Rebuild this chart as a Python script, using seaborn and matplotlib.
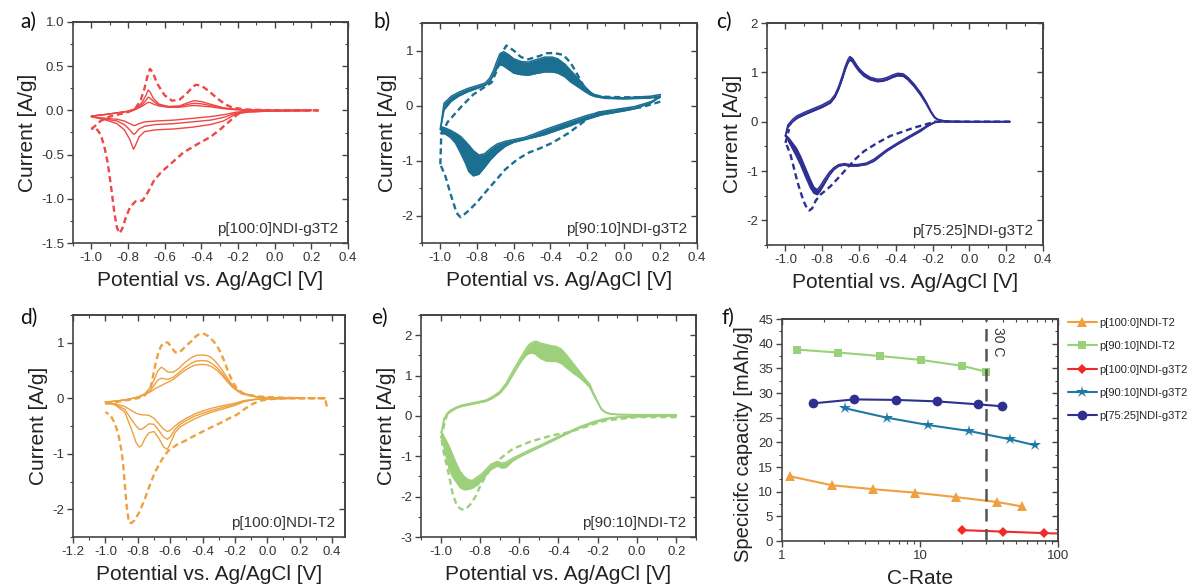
import matplotlib
matplotlib.use("Agg")
import matplotlib.pyplot as plt
from matplotlib.ticker import MultipleLocator, FuncFormatter, LogLocator, NullFormatter
import seaborn as sns

# ---------------- data: a) p[100:0]NDI-g3T2 ----------------
A_UP_E = [-1.0, -0.9, -0.8, -0.77, -0.74, -0.72, -0.70, -0.69, -0.68, -0.66, -0.63, -0.58, -0.52, -0.47, -0.44, -0.40, -0.35, -0.28, -0.22, -0.15, 0.0, 0.2]
A_UP_C1 = [-0.065, -0.04, -0.01, 0.01, 0.05, 0.10, 0.18, 0.23, 0.21, 0.13, 0.07, 0.045, 0.05, 0.09, 0.11, 0.10, 0.07, 0.03, 0.015, 0.005, 0.0, 0.0]
A_UP_C2 = [-0.065, -0.04, -0.01, 0.01, 0.04, 0.07, 0.12, 0.15, 0.14, 0.10, 0.06, 0.04, 0.045, 0.07, 0.08, 0.075, 0.055, 0.025, 0.01, 0.005, 0.0, 0.0]
A_UP_C3 = [-0.065, -0.04, -0.01, 0.0, 0.03, 0.05, 0.08, 0.09, 0.09, 0.07, 0.05, 0.035, 0.035, 0.05, 0.055, 0.05, 0.04, 0.02, 0.01, 0.0, 0.0, 0.0]
A_DN_E = [0.2, 0.0, -0.15, -0.21, -0.28, -0.35, -0.45, -0.55, -0.65, -0.71, -0.74, -0.76, -0.77, -0.79, -0.82, -0.86, -0.92, -1.0]
A_DN_C1 = [0.0, -0.005, -0.02, -0.04, -0.12, -0.16, -0.19, -0.21, -0.22, -0.24, -0.3, -0.40, -0.44, -0.33, -0.22, -0.15, -0.11, -0.07]
A_DN_C2 = [0.0, -0.005, -0.015, -0.03, -0.08, -0.11, -0.13, -0.15, -0.16, -0.18, -0.21, -0.26, -0.27, -0.22, -0.16, -0.12, -0.10, -0.07]
A_DN_C3 = [0.0, -0.005, -0.01, -0.02, -0.05, -0.07, -0.09, -0.11, -0.12, -0.13, -0.15, -0.17, -0.17, -0.15, -0.12, -0.1, -0.09, -0.07]
A_DASH_UP_E = [-1.0, -0.97, -0.95, -0.9, -0.8, -0.76, -0.73, -0.71, -0.69, -0.68, -0.665, -0.64, -0.6, -0.56, -0.52, -0.48, -0.45, -0.43, -0.40, -0.36, -0.31, -0.27, -0.23, -0.15, 0.0, 0.24]
A_DASH_UP_I = [-0.21, -0.16, -0.12, -0.07, -0.02, 0.02, 0.12, 0.25, 0.42, 0.47, 0.43, 0.30, 0.17, 0.11, 0.12, 0.19, 0.26, 0.29, 0.28, 0.22, 0.13, 0.07, 0.03, 0.01, 0.0, 0.0]
A_DASH_DN_E = [0.24, 0.0, -0.15, -0.2, -0.25, -0.3, -0.35, -0.42, -0.5, -0.57, -0.62, -0.66, -0.69, -0.72, -0.76, -0.79, -0.81, -0.83, -0.845, -0.86, -0.875, -0.89, -0.91, -0.93, -0.95, -0.975, -1.0]
A_DASH_DN_I = [0.0, 0.0, -0.01, -0.04, -0.13, -0.22, -0.30, -0.38, -0.48, -0.61, -0.70, -0.80, -0.92, -1.02, -1.03, -1.10, -1.20, -1.33, -1.39, -1.33, -1.15, -0.9, -0.6, -0.4, -0.27, -0.2, -0.21]

# ---------------- data: b) p[90:10]NDI-g3T2 ----------------
B_UP_E = [-1.0, -0.98, -0.94, -0.9, -0.85, -0.8, -0.755, -0.73, -0.71, -0.69, -0.675, -0.655, -0.63, -0.6, -0.56, -0.52, -0.48, -0.43, -0.39, -0.36, -0.32, -0.29, -0.25, -0.21, -0.18, -0.155, -0.1, 0.0, 0.1, 0.15, 0.2]
B_UP_OUT = [-0.44, 0.04, 0.17, 0.24, 0.31, 0.36, 0.41, 0.5, 0.64, 0.82, 0.94, 0.98, 0.93, 0.85, 0.8, 0.79, 0.83, 0.88, 0.88, 0.85, 0.75, 0.64, 0.5, 0.34, 0.24, 0.19, 0.15, 0.14, 0.16, 0.17, 0.2]
B_UP_IN = [-0.44, -0.08, 0.08, 0.17, 0.25, 0.31, 0.37, 0.44, 0.55, 0.68, 0.74, 0.72, 0.66, 0.59, 0.56, 0.55, 0.58, 0.61, 0.61, 0.59, 0.52, 0.43, 0.34, 0.25, 0.19, 0.16, 0.13, 0.12, 0.13, 0.14, 0.16]
B_DN_E = [0.2, 0.15, 0.06, 0.0, -0.12, -0.2, -0.3, -0.37, -0.43, -0.49, -0.54, -0.6, -0.645, -0.69, -0.725, -0.76, -0.79, -0.82, -0.845, -0.864, -0.89, -0.918, -0.945, -0.973, -1.0]
B_DN_OUT = [0.16, 0.05, -0.06, -0.1, -0.17, -0.25, -0.38, -0.46, -0.53, -0.58, -0.62, -0.67, -0.74, -0.86, -0.98, -1.13, -1.25, -1.28, -1.2, -1.04, -0.86, -0.68, -0.58, -0.52, -0.5]
B_DN_IN = [0.16, 0.07, -0.02, -0.05, -0.11, -0.18, -0.29, -0.37, -0.44, -0.52, -0.58, -0.62, -0.65, -0.7, -0.78, -0.88, -0.9, -0.82, -0.72, -0.65, -0.56, -0.5, -0.45, -0.41, -0.38]
B_DASH_UP_E = [-1.0, -0.995, -0.96, -0.92, -0.88, -0.82, -0.77, -0.72, -0.69, -0.665, -0.64, -0.6, -0.56, -0.52, -0.46, -0.42, -0.38, -0.33, -0.29, -0.25, -0.21, -0.17, -0.12, 0.0, 0.1, 0.2]
B_DASH_UP_I = [-1.07, -0.53, -0.3, -0.15, 0.0, 0.2, 0.31, 0.42, 0.65, 0.95, 1.09, 1.0, 0.88, 0.84, 0.9, 0.95, 0.955, 0.92, 0.78, 0.55, 0.3, 0.2, 0.16, 0.15, 0.15, 0.14]
B_DASH_DN_E = [0.2, 0.1, 0.0, -0.1, -0.14, -0.2, -0.3, -0.39, -0.45, -0.52, -0.58, -0.645, -0.7, -0.755, -0.8, -0.845, -0.87, -0.89, -0.905, -0.918, -0.945, -0.973, -1.0]
B_DASH_DN_I = [0.07, -0.03, -0.08, -0.11, -0.13, -0.25, -0.5, -0.68, -0.77, -0.86, -0.98, -1.16, -1.37, -1.58, -1.76, -1.91, -1.98, -2.03, -1.98, -1.88, -1.6, -1.28, -1.07]

# ---------------- data: c) p[75:25]NDI-g3T2 ----------------
C_UP_E = [-1.0, -0.987, -0.96, -0.936, -0.89, -0.845, -0.8, -0.755, -0.73, -0.71, -0.69, -0.675, -0.66, -0.65, -0.635, -0.62, -0.6, -0.573, -0.54, -0.5, -0.47, -0.445, -0.415, -0.39, -0.36, -0.335, -0.3, -0.264, -0.235, -0.21, -0.19, -0.173, -0.14, -0.1, 0.0, 0.1, 0.22]
C_UP_OUT = [-0.29, -0.07, 0.05, 0.12, 0.2, 0.27, 0.34, 0.43, 0.55, 0.72, 0.94, 1.12, 1.26, 1.32, 1.28, 1.19, 1.08, 0.98, 0.9, 0.86, 0.87, 0.9, 0.95, 0.98, 0.97, 0.9, 0.76, 0.58, 0.4, 0.22, 0.1, 0.05, 0.02, 0.01, 0.0, 0.0, 0.0]
C_UP_IN = [-0.29, -0.12, 0.0, 0.07, 0.15, 0.22, 0.29, 0.38, 0.5, 0.66, 0.87, 1.05, 1.19, 1.25, 1.21, 1.12, 1.02, 0.92, 0.85, 0.81, 0.82, 0.85, 0.9, 0.93, 0.92, 0.85, 0.71, 0.53, 0.36, 0.19, 0.08, 0.04, 0.01, 0.0, 0.0, 0.0, 0.0]
C_DN_E = [0.22, 0.0, -0.15, -0.19, -0.23, -0.264, -0.33, -0.39, -0.45, -0.518, -0.56, -0.61, -0.65, -0.68, -0.71, -0.736, -0.76, -0.79, -0.81, -0.827, -0.845, -0.864, -0.89, -0.918, -0.94, -0.964, -0.98, -0.99, -1.0]
C_DN_OUT = [0.0, 0.0, 0.0, -0.02, -0.1, -0.19, -0.33, -0.46, -0.6, -0.8, -0.87, -0.9, -0.9, -0.88, -0.9, -0.97, -1.08, -1.27, -1.4, -1.48, -1.45, -1.34, -1.12, -0.87, -0.7, -0.53, -0.42, -0.34, -0.29]
C_DN_IN = [0.0, 0.0, 0.0, -0.01, -0.08, -0.16, -0.3, -0.43, -0.57, -0.76, -0.84, -0.87, -0.87, -0.85, -0.87, -0.93, -1.02, -1.18, -1.3, -1.38, -1.33, -1.18, -0.95, -0.7, -0.54, -0.42, -0.34, -0.3, -0.27]
C_DASH_UP_E = [-1.0, -0.99, -0.98]
C_DASH_UP_I = [-0.43, -0.3, -0.15]
C_DASH_DN_E = [0.22, 0.0, -0.19, -0.25, -0.3, -0.36, -0.43, -0.5, -0.573, -0.62, -0.664, -0.71, -0.755, -0.79, -0.81, -0.835, -0.855, -0.87, -0.88, -0.9, -0.92, -0.936, -0.955, -0.973, -0.99, -1.0]
C_DASH_DN_I = [0.0, 0.0, 0.0, -0.07, -0.12, -0.2, -0.29, -0.43, -0.6, -0.76, -0.94, -1.13, -1.31, -1.42, -1.48, -1.6, -1.76, -1.8, -1.78, -1.62, -1.4, -1.2, -0.92, -0.66, -0.5, -0.43]

# ---------------- data: d) p[100:0]NDI-T2 ----------------
D_UP_E = [-1.0, -0.93, -0.86, -0.8, -0.757, -0.72, -0.695, -0.675, -0.654, -0.635, -0.612, -0.58, -0.55, -0.51, -0.47, -0.44, -0.406, -0.37, -0.344, -0.31, -0.282, -0.25, -0.22, -0.19, -0.158, -0.1, -0.056, 0.0, 0.1, 0.2]
D_UP_C1 = [-0.07, -0.05, -0.02, 0.02, 0.08, 0.2, 0.36, 0.5, 0.56, 0.52, 0.47, 0.47, 0.53, 0.64, 0.73, 0.77, 0.78, 0.77, 0.73, 0.63, 0.52, 0.38, 0.25, 0.16, 0.1, 0.05, 0.02, 0.01, 0.0, 0.0]
D_UP_C2 = [-0.07, -0.05, -0.02, 0.02, 0.07, 0.15, 0.25, 0.33, 0.36, 0.35, 0.34, 0.38, 0.45, 0.55, 0.63, 0.67, 0.68, 0.67, 0.63, 0.55, 0.46, 0.34, 0.23, 0.15, 0.09, 0.05, 0.02, 0.01, 0.0, 0.0]
D_UP_C3 = [-0.07, -0.05, -0.02, 0.02, 0.06, 0.12, 0.17, 0.2, 0.23, 0.26, 0.29, 0.34, 0.41, 0.5, 0.57, 0.6, 0.61, 0.6, 0.57, 0.5, 0.42, 0.31, 0.21, 0.14, 0.08, 0.04, 0.02, 0.01, 0.0, 0.0]
D_DN_E = [0.2, 0.0, -0.076, -0.14, -0.2, -0.27, -0.344, -0.4, -0.447, -0.5, -0.54, -0.57, -0.6, -0.617, -0.64, -0.67, -0.7, -0.73, -0.757, -0.775, -0.79, -0.81, -0.84, -0.88, -0.94, -1.0]
D_DN_C1 = [0.0, -0.01, -0.02, -0.06, -0.13, -0.19, -0.25, -0.31, -0.37, -0.45, -0.52, -0.62, -0.82, -0.92, -0.88, -0.72, -0.6, -0.62, -0.73, -0.85, -0.88, -0.8, -0.55, -0.25, -0.12, -0.08]
D_DN_C2 = [0.0, -0.01, -0.02, -0.05, -0.11, -0.16, -0.22, -0.27, -0.32, -0.4, -0.47, -0.56, -0.7, -0.74, -0.7, -0.58, -0.47, -0.46, -0.52, -0.56, -0.56, -0.5, -0.38, -0.2, -0.11, -0.08]
D_DN_C3 = [0.0, -0.01, -0.02, -0.04, -0.09, -0.13, -0.18, -0.23, -0.28, -0.36, -0.43, -0.5, -0.58, -0.6, -0.56, -0.46, -0.36, -0.31, -0.3, -0.3, -0.29, -0.27, -0.22, -0.15, -0.1, -0.08]
D_DASH_UP_E = [-1.0, -0.95, -0.9, -0.8, -0.757, -0.72, -0.69, -0.67, -0.654, -0.63, -0.612, -0.59, -0.57, -0.55, -0.53, -0.5, -0.468, -0.44, -0.417, -0.39, -0.365, -0.33, -0.3, -0.27, -0.24, -0.21, -0.18, -0.15, -0.117, -0.05, 0.0, 0.1, 0.2, 0.3, 0.357, 0.37]
D_DASH_UP_I = [-0.1, -0.08, -0.05, 0.0, 0.05, 0.2, 0.62, 0.85, 0.95, 1.01, 1.0, 0.91, 0.83, 0.82, 0.86, 0.95, 1.03, 1.12, 1.16, 1.16, 1.12, 1.02, 0.89, 0.7, 0.47, 0.27, 0.15, 0.09, 0.06, 0.03, 0.02, 0.01, 0.0, 0.0, 0.0, -0.18]
D_DASH_DN_E = [0.36, 0.2, 0.1, 0.0, -0.035, -0.09, -0.138, -0.19, -0.24, -0.3, -0.365, -0.44, -0.51, -0.56, -0.612, -0.65, -0.695, -0.73, -0.757, -0.79, -0.82, -0.84, -0.855, -0.87, -0.89, -0.9, -0.92, -0.942, -0.97, -1.0]
D_DASH_DN_I = [0.0, 0.0, 0.0, -0.02, -0.04, -0.1, -0.19, -0.3, -0.37, -0.46, -0.55, -0.66, -0.77, -0.84, -0.95, -1.1, -1.34, -1.6, -1.82, -2.05, -2.2, -2.25, -2.24, -1.9, -1.2, -0.95, -0.65, -0.45, -0.3, -0.25]

# ---------------- data: e) p[90:10]NDI-T2 ----------------
E_UP_E = [-0.995, -0.983, -0.966, -0.95, -0.92, -0.89, -0.83, -0.77, -0.735, -0.7, -0.665, -0.634, -0.61, -0.583, -0.565, -0.55, -0.53, -0.515, -0.49, -0.463, -0.44, -0.412, -0.385, -0.361, -0.33, -0.293, -0.259, -0.24, -0.225, -0.2, -0.182, -0.16, -0.14, -0.1, 0.0, 0.1, 0.2]
E_UP_OUT = [-0.4, -0.07, 0.07, 0.14, 0.22, 0.27, 0.33, 0.39, 0.48, 0.6, 0.82, 1.1, 1.3, 1.52, 1.67, 1.77, 1.83, 1.85, 1.8, 1.77, 1.74, 1.72, 1.65, 1.52, 1.33, 1.1, 0.89, 0.78, 0.6, 0.35, 0.18, 0.09, 0.06, 0.04, 0.03, 0.03, 0.03]
E_UP_IN = [-0.4, -0.1, 0.04, 0.1, 0.19, 0.24, 0.3, 0.36, 0.44, 0.55, 0.75, 1.0, 1.2, 1.4, 1.5, 1.55, 1.56, 1.52, 1.42, 1.36, 1.35, 1.35, 1.3, 1.2, 1.08, 0.95, 0.8, 0.7, 0.55, 0.32, 0.16, 0.08, 0.05, 0.03, 0.02, 0.02, 0.02]
E_DN_E = [0.2, 0.0, -0.1, -0.157, -0.22, -0.293, -0.36, -0.43, -0.49, -0.55, -0.6, -0.634, -0.668, -0.69, -0.71, -0.745, -0.787, -0.81, -0.838, -0.86, -0.88, -0.9, -0.923, -0.94, -0.957, -0.975, -0.99, -1.0]
E_DN_OUT = [0.0, -0.02, -0.04, -0.08, -0.17, -0.3, -0.45, -0.62, -0.76, -0.9, -1.02, -1.12, -1.28, -1.29, -1.24, -1.33, -1.57, -1.7, -1.79, -1.82, -1.83, -1.78, -1.62, -1.5, -1.3, -0.95, -0.62, -0.5]
E_DN_IN = [0.0, -0.01, -0.03, -0.06, -0.14, -0.27, -0.42, -0.58, -0.72, -0.85, -0.97, -1.05, -1.15, -1.17, -1.13, -1.2, -1.42, -1.5, -1.6, -1.58, -1.5, -1.38, -1.15, -0.95, -0.75, -0.58, -0.45, -0.4]
E_DASH_UP_E = [-0.995, -0.983, -0.966, -0.95]
E_DASH_UP_I = [-0.57, -0.23, 0.05, 0.12]
E_DASH_DN_E = [0.2, 0.0, -0.157, -0.22, -0.293, -0.36, -0.43, -0.49, -0.55, -0.634, -0.7, -0.735, -0.77, -0.8, -0.82, -0.85, -0.87, -0.89, -0.905, -0.923, -0.94, -0.957, -0.975, -0.988, -0.995]
E_DASH_DN_I = [-0.03, -0.03, -0.11, -0.2, -0.32, -0.42, -0.48, -0.56, -0.65, -0.82, -1.07, -1.25, -1.48, -1.75, -1.98, -2.2, -2.3, -2.32, -2.28, -2.15, -1.9, -1.48, -1.1, -0.82, -0.57]

# ---------------- data: f) rate capability ----------------
F_LABELS = ["p[100:0]NDI-T2", "p[90:10]NDI-T2", "p[100:0]NDI-g3T2", "p[90:10]NDI-g3T2", "p[75:25]NDI-g3T2"]
F_T2_100_X = [1.15, 2.3, 4.6, 9.2, 18.2, 36.2, 55]
F_T2_100_Y = [13.1, 11.3, 10.5, 9.8, 8.9, 7.9, 7.0]
F_T2_90_X = [1.28, 2.55, 5.1, 10.2, 20.3, 30.3]
F_T2_90_Y = [38.8, 38.2, 37.5, 36.7, 35.5, 34.3]
F_G3_100_X = [20.2, 40, 79, 158]
F_G3_100_Y = [2.2, 1.9, 1.6, 1.35]
F_G3_90_X = [2.87, 5.74, 11.5, 22.7, 45.2, 68.2]
F_G3_90_Y = [26.9, 25.0, 23.5, 22.3, 20.6, 19.4]
F_G3_75_X = [1.68, 3.33, 6.67, 13.3, 26.4, 39.6]
F_G3_75_Y = [27.9, 28.7, 28.6, 28.3, 27.7, 27.3]
F_CUTOFF = 30

# ---------------- styling ----------------
sns.set_theme(style="ticks")
plt.rcParams["font.family"] = ["Liberation Sans", "DejaVu Sans"]
plt.rcParams["axes.unicode_minus"] = False

COL_A = "#ef4646"
COL_B = "#1b6f91"
COL_C = "#2e2f92"
COL_D = "#eda141"
COL_E = "#9dd07a"
F_COLORS = ["#f0a040", "#97d27a", "#f02a2a", "#1f79a6", "#2e2f90"]
F_MARKERS = ["^", "s", "D", "*", "o"]
F_MSIZE = [7, 6, 5.5, 9, 7]

TXT = "#333333"
SPINE = "#444444"
DASH = (0, (2.6, 1.6))

W, H = 1195, 588
fig = plt.figure(figsize=(W / 100, H / 100), dpi=100)
fig.patch.set_facecolor("white")


def add_ax(x0, x1, y0, y1):
    return fig.add_axes([x0 / W, 1 - y1 / H, (x1 - x0) / W, (y1 - y0) / H])


def fmt(dec):
    def f(v, p):
        if abs(v) < 1e-9:
            v = 0.0
        return f"{v:.{dec}f}"
    return FuncFormatter(f)


def style(ax, xlim, ylim, xmaj, ymaj, xdec, ydec, log=False):
    ax.set_xlim(xlim)
    ax.set_ylim(ylim)
    if not log:
        ax.xaxis.set_major_locator(MultipleLocator(xmaj))
        ax.xaxis.set_minor_locator(MultipleLocator(xmaj / 2))
        ax.xaxis.set_major_formatter(fmt(xdec))
    ax.yaxis.set_major_locator(MultipleLocator(ymaj))
    ax.yaxis.set_minor_locator(MultipleLocator(ymaj / 2))
    ax.yaxis.set_major_formatter(fmt(ydec))
    ax.tick_params(which="both", direction="out", top=False, right=False,
                   colors=SPINE, labelcolor=TXT, labelsize=9.5, pad=2.5)
    ax.tick_params(which="major", length=4, width=1)
    ax.tick_params(which="minor", length=2.5, width=0.8)
    for sp in ax.spines.values():
        sp.set_visible(True)
        sp.set_color(SPINE)
        sp.set_linewidth(1.2)
    ax.set_facecolor("white")
    secx = ax.secondary_xaxis("top")
    secy = ax.secondary_yaxis("right")
    if log:
        secx.xaxis.set_major_locator(LogLocator(base=10))
        secx.xaxis.set_minor_locator(LogLocator(base=10, subs=range(2, 10)))
    else:
        secx.xaxis.set_major_locator(MultipleLocator(xmaj))
        secx.xaxis.set_minor_locator(MultipleLocator(xmaj / 2))
    secy.yaxis.set_major_locator(MultipleLocator(ymaj))
    secy.yaxis.set_minor_locator(MultipleLocator(ymaj / 2))
    secx.tick_params(which="both", direction="in", labeltop=False, colors=SPINE)
    secy.tick_params(which="both", direction="in", labelright=False, colors=SPINE)
    for s in (secx, secy):
        s.tick_params(which="major", length=4, width=1)
        s.tick_params(which="minor", length=2.5, width=0.8)
        for sp in s.spines.values():
            sp.set_color(SPINE)
            sp.set_linewidth(1.2)


def cv(ax, E, I, color, lw=1.0, ls="-"):
    sns.lineplot(x=E, y=I, ax=ax, color=color, lw=lw, linestyle=ls,
                 sort=False, estimator=None, legend=False)


def band(ax, E, OUT, IN, color):
    ax.fill_between(E, OUT, IN, color=color, lw=0)
    cv(ax, E, OUT, color, lw=1.1)
    cv(ax, E, IN, color, lw=1.1)


def labels(ax, name, xlabel="Potential vs. Ag/AgCl [V]", ylabel="Current [A/g]"):
    ax.set_xlabel(xlabel, fontsize=15, color="#222222", labelpad=5)
    ax.set_ylabel(ylabel, fontsize=15, color="#222222", labelpad=3)
    if name:
        ax.text(0.965, 0.03, name, transform=ax.transAxes, ha="right", va="bottom",
                fontsize=11, color=TXT)


def panel_letter(x, y, s):
    fig.text(x / W, 1 - y / H, s, fontsize=15, family=["Lato", "DejaVu Sans"],
             color="#111111", va="top", ha="left")


# ---- a ----
axa = add_ax(73, 348, 22, 243)
for up, dn in [(A_UP_C3, A_DN_C3), (A_UP_C2, A_DN_C2), (A_UP_C1, A_DN_C1)]:
    cv(axa, A_UP_E, up, COL_A, lw=1.0)
    cv(axa, A_DN_E, dn, COL_A, lw=1.0)
cv(axa, A_DASH_UP_E, A_DASH_UP_I, COL_A, lw=1.7, ls=DASH)
cv(axa, A_DASH_DN_E, A_DASH_DN_I, COL_A, lw=1.7, ls=DASH)
style(axa, (-1.1, 0.4), (-1.5, 1.0), 0.2, 0.5, 1, 1)
labels(axa, "p[100:0]NDI-g3T2")

# ---- b ----
axb = add_ax(422, 697, 23, 243)
band(axb, B_UP_E, B_UP_OUT, B_UP_IN, COL_B)
band(axb, B_DN_E, B_DN_OUT, B_DN_IN, COL_B)
cv(axb, B_DASH_UP_E, B_DASH_UP_I, COL_B, lw=1.7, ls=DASH)
cv(axb, B_DASH_DN_E, B_DASH_DN_I, COL_B, lw=1.7, ls=DASH)
style(axb, (-1.1, 0.4), (-2.5, 1.5), 0.2, 1, 1, 0)
labels(axb, "p[90:10]NDI-g3T2")

# ---- c ----
axc = add_ax(767, 1043, 23, 245)
band(axc, C_UP_E, C_UP_OUT, C_UP_IN, COL_C)
band(axc, C_DN_E, C_DN_OUT, C_DN_IN, COL_C)
cv(axc, C_DASH_UP_E, C_DASH_UP_I, COL_C, lw=1.7, ls=DASH)
cv(axc, C_DASH_DN_E, C_DASH_DN_I, COL_C, lw=1.7, ls=DASH)
style(axc, (-1.1, 0.4), (-2.5, 2.0), 0.2, 1, 1, 0)
labels(axc, "p[75:25]NDI-g3T2")

# ---- d ----
axd = add_ax(73, 345, 315, 537)
for up, dn in [(D_UP_C3, D_DN_C3), (D_UP_C2, D_DN_C2), (D_UP_C1, D_DN_C1)]:
    cv(axd, D_UP_E, up, COL_D, lw=1.0)
    cv(axd, D_DN_E, dn, COL_D, lw=1.0)
cv(axd, D_DASH_UP_E, D_DASH_UP_I, COL_D, lw=1.7, ls=DASH)
cv(axd, D_DASH_DN_E, D_DASH_DN_I, COL_D, lw=1.7, ls=DASH)
style(axd, (-1.2, 0.48), (-2.5, 1.5), 0.2, 1, 1, 0)
labels(axd, "p[100:0]NDI-T2")

# ---- e ----
axe = add_ax(421, 696, 315, 537)
band(axe, E_UP_E, E_UP_OUT, E_UP_IN, COL_E)
band(axe, E_DN_E, E_DN_OUT, E_DN_IN, COL_E)
cv(axe, E_DASH_UP_E, E_DASH_UP_I, COL_E, lw=1.7, ls=DASH)
cv(axe, E_DASH_DN_E, E_DASH_DN_I, COL_E, lw=1.7, ls=DASH)
style(axe, (-1.1, 0.3), (-3.0, 2.5), 0.2, 1, 1, 0)
labels(axe, "p[90:10]NDI-T2")

# ---- f ----
axf = add_ax(782, 1058, 319, 541)
axf.set_xscale("log")
f_series = [(F_T2_100_X, F_T2_100_Y), (F_T2_90_X, F_T2_90_Y), (F_G3_100_X, F_G3_100_Y),
            (F_G3_90_X, F_G3_90_Y), (F_G3_75_X, F_G3_75_Y)]
for (xs, ys), lab, col, mk, ms in zip(f_series, F_LABELS, F_COLORS, F_MARKERS, F_MSIZE):
    sns.lineplot(x=xs, y=ys, ax=axf, color=col, marker=mk, markersize=ms,
                 markeredgewidth=0, lw=1.5, label=lab, sort=False, estimator=None)
axf.axvline(F_CUTOFF, color="#555555", lw=1.8, linestyle=(0, (5, 3)))
axf.text(36.5, 40.5, "30 C", rotation=270, ha="center", va="center", fontsize=10, color=TXT)
style(axf, (1, 100), (0, 45), None, 5, 0, 0, log=True)
axf.xaxis.set_major_locator(LogLocator(base=10))
axf.xaxis.set_minor_locator(LogLocator(base=10, subs=range(2, 10)))
axf.xaxis.set_major_formatter(FuncFormatter(lambda v, p: f"{v:g}"))
axf.xaxis.set_minor_formatter(NullFormatter())
axf.set_xlim(1, 100)
axf.set_xlabel("C-Rate", fontsize=15, color="#222222", labelpad=5)
axf.set_ylabel("Specicifc capacity [mAh/g]", fontsize=14.5, color="#222222")
axf.yaxis.set_label_coords(-0.105, 0.435)
h, l = axf.get_legend_handles_labels()
if axf.get_legend() is not None:
    axf.get_legend().remove()
fig.legend(h, l, loc="upper left", bbox_to_anchor=(1068 / W, 1 - 318 / H),
           frameon=False, fontsize=8, handlelength=2.6, handletextpad=0.2,
           labelspacing=1.2, borderpad=0, borderaxespad=0)

# ---- panel letters ----
panel_letter(20, 12, "a)")
panel_letter(374, 12, "b)")
panel_letter(716, 12, "c)")
panel_letter(20, 308, "d)")
panel_letter(371, 308, "e)")
panel_letter(721, 308, "f)")

fig.savefig("out.png", dpi=100, facecolor="white")
